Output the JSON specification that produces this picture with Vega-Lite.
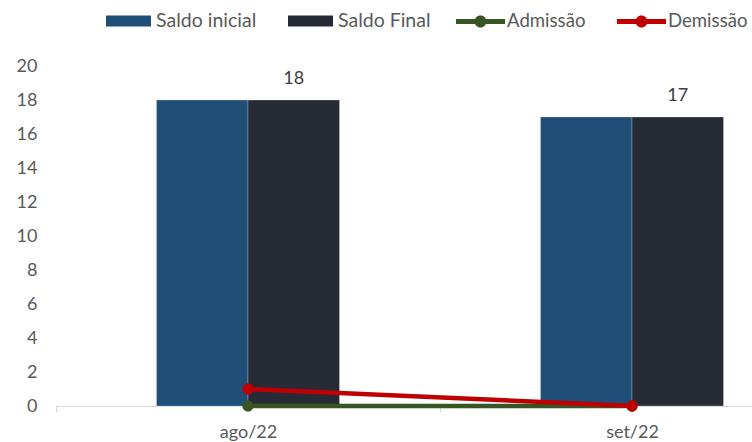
{
  "$schema": "https://vega.github.io/schema/vega-lite/v6.json",
  "width": 768,
  "height": 340,
  "autosize": {"type": "none"},
  "padding": {"left": 56, "top": 66, "right": 0, "bottom": 36},
  "background": "white",
  "config": {"view": {"stroke": null}, "font": "Lato"},
  "data": {
    "values": [
      {"mes": "ago/22", "serie": "Saldo inicial", "valor": 18},
      {"mes": "ago/22", "serie": "Saldo Final", "valor": 18},
      {"mes": "set/22", "serie": "Saldo inicial", "valor": 17},
      {"mes": "set/22", "serie": "Saldo Final", "valor": 17},
      {"mes": "ago/22", "serie": "Admissão", "valor": 0},
      {"mes": "set/22", "serie": "Admissão", "valor": 0},
      {"mes": "ago/22", "serie": "Demissão", "valor": 1},
      {"mes": "set/22", "serie": "Demissão", "valor": 0}
    ]
  },
  "encoding": {
    "x": {
      "field": "mes",
      "type": "nominal",
      "scale": {"domain": ["ago/22", "set/22"], "paddingInner": 0, "paddingOuter": 0},
      "axis": {
        "title": null,
        "labelAngle": 0,
        "labelFont": "Lato",
        "labelFontSize": 18,
        "labelColor": "#595959",
        "labelPadding": 11,
        "domainColor": "#d9d9d9",
        "domainWidth": 1,
        "tickColor": "#d9d9d9",
        "tickSize": 6,
        "tickBand": "extent",
        "grid": false
      }
    },
    "y": {
      "field": "valor",
      "type": "quantitative",
      "scale": {"domain": [0, 20], "nice": false},
      "axis": {
        "title": null,
        "values": [0, 2, 4, 6, 8, 10, 12, 14, 16, 18, 20],
        "domain": false,
        "ticks": false,
        "grid": false,
        "labelFont": "Lato",
        "labelFontSize": 18,
        "labelColor": "#595959",
        "labelPadding": 19
      }
    }
  },
  "layer": [
    {
      "transform": [{"filter": {"field": "serie", "oneOf": ["Saldo inicial", "Saldo Final"]}}],
      "mark": {"type": "bar", "stroke": "#ffffff", "strokeOpacity": 0.35, "strokeWidth": 0.75},
      "encoding": {
        "xOffset": {"field": "serie", "type": "nominal", "scale": {"domain": ["_a", "Saldo inicial", "Saldo Final", "_b"], "paddingInner": 0, "paddingOuter": 0.098}},
        "fill": {
          "field": "serie",
          "type": "nominal",
          "scale": {"domain": ["Saldo inicial", "Saldo Final"], "range": ["#1F4E79", "#262B35"]},
          "legend": {
            "title": null,
            "orient": "none",
            "legendX": 50,
            "legendY": -67.5,
            "direction": "horizontal",
            "symbolType": "M-1,-0.244H1V0.244H-1Z",
            "symbolSize": 2025,
            "symbolStrokeWidth": 0,
            "labelOffset": 5,
            "columnPadding": 31,
            "labelFont": "Lato",
            "labelFontSize": 19.5,
            "labelColor": "#595959",
            "padding": 0
          }
        }
      }
    },
    {
      "transform": [{"filter": {"field": "serie", "equal": "Saldo Final"}}],
      "mark": {"type": "text", "baseline": "alphabetic", "dy": -16, "fontSize": 18, "font": "Lato", "color": "#404040"},
      "encoding": {
        "xOffset": {"field": "serie", "type": "nominal", "scale": {"domain": ["_a", "Saldo inicial", "Saldo Final", "_b"], "paddingInner": 0, "paddingOuter": 0.098}},
        "text": {"field": "valor", "type": "quantitative"}
      }
    },
    {
      "transform": [{"filter": {"field": "serie", "oneOf": ["Admissão", "Demissão"]}}],
      "mark": {"type": "line", "strokeWidth": 4.5},
      "encoding": {
        "stroke": {
          "field": "serie",
          "type": "nominal",
          "scale": {"domain": ["Admissão", "Demissão"], "range": ["#375623", "#C00000"]},
          "legend": {
            "title": null,
            "orient": "none",
            "legendX": 400,
            "legendY": -69.5,
            "direction": "horizontal",
            "symbolType": "M-1,-0.102H-0.2V0.102H-1Z M0.2,-0.102H1V0.102H0.2Z M-0.245,0A0.245,0.245,0,1,1,0.245,0A0.245,0.245,0,1,1,-0.245,0Z",
            "symbolSize": 2401,
            "symbolStrokeWidth": 0,
            "labelOffset": 2,
            "columnPadding": 31,
            "labelFont": "Lato",
            "labelFontSize": 18.6,
            "labelColor": "#595959",
            "padding": 0,
            "encode": {"symbols": {"update": {"fill": {"scale": "stroke", "field": "value"}, "strokeWidth": {"value": 0}, "opacity": {"value": 1}}}}
          }
        }
      }
    },
    {
      "transform": [{"filter": {"field": "serie", "oneOf": ["Admissão", "Demissão"]}}],
      "mark": {"type": "point", "shape": "circle", "filled": false, "size": 28, "strokeWidth": 6, "opacity": 1},
      "encoding": {
        "stroke": {
          "field": "serie",
          "type": "nominal",
          "scale": {"domain": ["Admissão", "Demissão"], "range": ["#375623", "#C00000"]},
          "legend": {
            "title": null,
            "orient": "none",
            "legendX": 400,
            "legendY": -69.5,
            "direction": "horizontal",
            "symbolType": "M-1,-0.102H-0.2V0.102H-1Z M0.2,-0.102H1V0.102H0.2Z M-0.245,0A0.245,0.245,0,1,1,0.245,0A0.245,0.245,0,1,1,-0.245,0Z",
            "symbolSize": 2401,
            "symbolStrokeWidth": 0,
            "labelOffset": 2,
            "columnPadding": 31,
            "labelFont": "Lato",
            "labelFontSize": 18.6,
            "labelColor": "#595959",
            "padding": 0,
            "encode": {"symbols": {"update": {"fill": {"scale": "stroke", "field": "value"}, "strokeWidth": {"value": 0}, "opacity": {"value": 1}}}}
          }
        }
      }
    }
  ]
}
